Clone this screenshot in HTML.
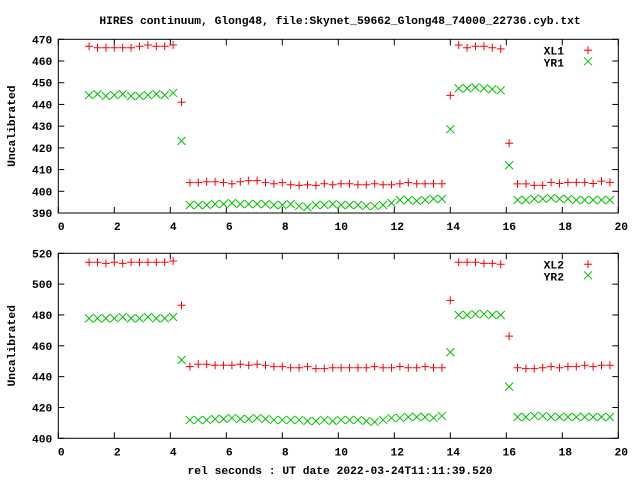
<!DOCTYPE html>
<html><head><meta charset="utf-8"><style>
html,body{margin:0;padding:0;background:#fff;}
svg{display:block;}
text{font-family:"Liberation Mono",monospace;font-weight:bold;font-size:11.3px;fill:#000;}
</style></head><body>
<svg id="c" width="640" height="480" viewBox="0 0 640 480" xmlns="http://www.w3.org/2000/svg">
<rect width="640" height="480" fill="#fff"/>
<text x="340" y="24" text-anchor="middle">HIRES continuum, Glong48, file:Skynet_59662_Glong48_74000_22736.cyb.txt</text>
<text x="340" y="474" text-anchor="middle">rel seconds : UT date 2022-03-24T11:11:39.520</text>
</svg>
<script>
const times = [1.1,1.4,1.7,2.0,2.3,2.6,2.9,3.2,3.5,3.8,4.1,4.4,4.7,5.0,5.3,5.6,5.9,6.2,6.5,6.8,7.1,7.4,7.7,8.0,8.3,8.6,8.9,9.2,9.5,9.8,10.1,10.4,10.7,11.0,11.3,11.6,11.9,12.2,12.5,12.8,13.1,13.4,13.7,14.0,14.3,14.6,14.9,15.2,15.5,15.8,16.1,16.4,16.7,17.0,17.3,17.6,17.9,18.2,18.5,18.8,19.1,19.4,19.7];
const xl1 = [466.8,466.1,466.1,466.1,466.1,466.1,466.8,467.4,466.8,466.8,467.4,441.0,
404,404,404.4,404.4,404,403.5,404.4,404.9,404.9,404,403.5,404,403,402.7,403,402.7,403.5,403,403.5,403.5,
403,403,403.5,403,403,403.5,404,403.5,403.5,403.5,403.5,
444.2,467.4,466.1,466.8,466.8,466.1,465.6,422.1,
403.4,403.4,402.7,402.7,404.1,403.6,404.1,404.1,404.1,403.6,404.7,404.1];
const yr1 = [444.3,444.8,443.9,444.3,444.8,443.9,443.9,444.3,444.8,444.3,445.3,423.2,
393.7,393.7,393.7,394.1,394.1,394.6,394.1,394.1,394.1,394.1,393.7,393.7,394.1,393.2,392.7,393.7,393.7,394.1,393.7,393.7,
393.7,393.2,393.2,393.7,394.6,396.0,396.0,395.6,396.0,396.5,396.5,
428.6,447.4,447.4,447.9,447.4,447.0,446.5,412.0,
396.0,396.0,396.5,396.5,396.9,396.5,396.5,396.0,396.0,396.0,396.0,396.0];
const xl2 = [514.2,514.2,513.5,514.2,513.5,514.2,514.2,514.2,514.2,514.2,515.0,486.3,
446.5,448.0,448.0,447.4,447.4,447.4,448.0,447.4,448.0,447.4,446.5,446.5,445.8,445.8,446.5,445.2,445.2,445.8,445.8,445.8,
445.8,445.8,446.5,445.8,445.8,446.5,445.8,445.8,446.5,445.8,445.8,
489.5,514.2,514.2,514.2,513.5,513.5,512.9,466.3,
445.8,445.2,445.2,445.8,446.5,445.8,446.5,446.5,447.4,446.5,447.4,447.4];
const yr2 = [477.8,477.8,477.8,477.8,478.7,477.8,477.8,478.7,477.8,477.8,478.7,450.8,
411.9,411.9,411.9,412.5,412.5,413.2,412.5,412.5,413.2,412.5,411.9,411.9,411.9,411.9,411.2,411.2,411.9,411.2,411.9,411.9,
411.9,411.2,410.6,411.9,413.2,413.2,413.8,413.8,413.8,413.2,414.5,
455.8,480.0,480.0,480.6,480.6,480.0,480.0,433.5,
413.8,413.8,414.5,414.5,413.8,413.8,413.8,413.8,413.8,413.8,413.8,413.8];
const xTicks = [0,2,4,6,8,10,12,14,16,18,20];
const yTicks1 = [390,400,410,420,430,440,450,460,470];
const yTicks2 = [400,420,440,460,480,500,520];

const NS="http://www.w3.org/2000/svg";
const svg=document.getElementById('c');
function mk(tag,attrs,parent){const e=document.createElementNS(NS,tag);for(const k in attrs)e.setAttribute(k,attrs[k]);(parent||svg).appendChild(e);return e;}

function panel(name,top,bottom,ymin,ymax,yTicks,s1,s2,n1,n2){
  const L=58.3,R=618.3;
  const g=mk('g',{});
  
  
  const xs=v=>L+(v-0)/(20-0)*(R-L);
  const ys=v=>bottom-(v-ymin)/(ymax-ymin)*(bottom-top);
  xTicks.forEach(t=>{
    const x=xs(t);
    const a=mk('line',{x1:x,x2:x,y1:bottom,y2:bottom-6,stroke:'#000','stroke-width':1},g);
    
    
    const b=mk('line',{x1:x,x2:x,y1:top,y2:top+6,stroke:'#000','stroke-width':1},g);
    
    
    const tx=mk('text',{x:x+3,y:bottom+17,'text-anchor':'middle'},g);
    tx.textContent=t;
    
    
  });
  yTicks.forEach(t=>{
    const y=ys(t);
    const a=mk('line',{x1:L,x2:L+6,y1:y,y2:y,stroke:'#000','stroke-width':1},g);
    
    
    const b=mk('line',{x1:R,x2:R-6,y1:y,y2:y,stroke:'#000','stroke-width':1},g);
    
    
    const tx=mk('text',{x:L-6,y:y+4,'text-anchor':'end'},g);
    tx.textContent=t;
    
    
  });
  const fr=mk('rect',{x:L,y:top,width:R-L,height:bottom-top,fill:'none',stroke:'#000','stroke-width':1},g);
  
  
  const yl=mk('text',{x:0,y:0,'text-anchor':'middle',transform:`translate(15,${(top+bottom)/2}) rotate(-90)`},g);
  yl.textContent='Uncalibrated';
  
  
  function plus(x,y,p,nm){const e=mk('path',{d:`M${x-4},${y}H${x+4}M${x},${y-4}V${y+4}`,stroke:'#f00','stroke-width':1,fill:'none'},p);}
  function cross(x,y,p,nm){const e=mk('path',{d:`M${x-4},${y-4}L${x+4},${y+4}M${x-4},${y+4}L${x+4},${y-4}`,stroke:'#00c000','stroke-width':1,fill:'none'},p);}
  const g1=mk('g',{},g);
  
  
  s1.forEach((v,i)=>plus(xs(times[i]),ys(v),g1,'point-'+n1.toLowerCase()));
  const g2=mk('g',{},g);
  
  
  s2.forEach((v,i)=>cross(xs(times[i]),ys(v),g2,'point-'+n2.toLowerCase()));
  const lg=mk('g',{},g);
  
  
  const t1=mk('text',{x:564,y:top+15,'text-anchor':'end'},lg);t1.textContent=n1;
  
  
  plus(588,top+11,lg,'legend-marker-'+n1.toLowerCase());
  const t2=mk('text',{x:564,y:top+27,'text-anchor':'end'},lg);t2.textContent=n2;
  
  
  cross(588,top+22,lg,'legend-marker-'+n2.toLowerCase());
}
panel('top-panel',39.3,213,390,470,yTicks1,xl1,yr1,'XL1','YR1');
panel('bottom-panel',253.3,438.3,400,520,yTicks2,xl2,yr2,'XL2','YR2');
</script>
</body></html>
